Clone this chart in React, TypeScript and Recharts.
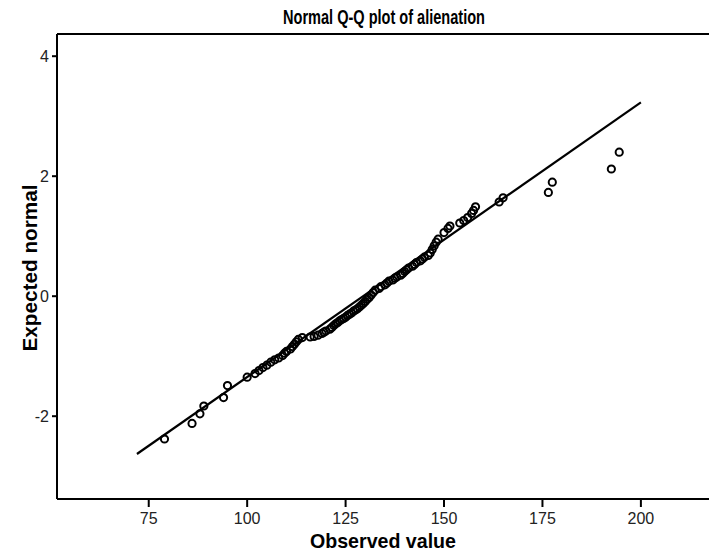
import { ScatterChart, Scatter, XAxis, YAxis, ReferenceLine, Label } from "recharts";

// observed alienation scores and their expected normal quantiles
const observed = [
  79, 86, 88, 89, 94, 95, 100, 102, 103, 104, 105, 106, 107, 108, 109, 109.5, 110, 111, 111.5, 112,
  112.5, 113, 114, 116, 117, 118, 119, 119.5, 120, 121, 121.5, 122, 122.5, 123, 123.5, 124, 124.5, 125,
  125.5, 126, 126.5, 127, 127.5, 128, 128.5, 129, 129.5, 130, 130.5, 131, 131.5, 132, 132.5, 133.5, 134,
  135, 135.5, 136, 137, 137.5, 138, 139, 139.5, 140, 140.5, 141, 142, 142.5, 143, 144, 144.5, 145, 146,
  146.5, 147, 147.5, 148, 148.5, 150, 151, 151.5, 154, 155, 156, 157, 157.5, 158, 164, 165, 176.5, 177.5,
  192.5, 194.5,
];
const expected = [
  -2.38, -2.12, -1.96, -1.83, -1.69, -1.49, -1.35, -1.29, -1.24, -1.19, -1.15, -1.1, -1.06, -1.03, -0.99,
  -0.95, -0.92, -0.88, -0.84, -0.8, -0.76, -0.72, -0.69, -0.68, -0.67, -0.65, -0.62, -0.6, -0.58, -0.55,
  -0.52, -0.49, -0.46, -0.44, -0.41, -0.39, -0.37, -0.35, -0.32, -0.3, -0.28, -0.25, -0.23, -0.21, -0.18,
  -0.15, -0.12, -0.09, -0.05, -0.02, 0.02, 0.06, 0.1, 0.13, 0.16, 0.19, 0.22, 0.25, 0.27, 0.3, 0.32, 0.35,
  0.38, 0.41, 0.44, 0.47, 0.5, 0.53, 0.56, 0.59, 0.62, 0.65, 0.68, 0.72, 0.78, 0.84, 0.9, 0.95, 1.06, 1.13,
  1.17, 1.22, 1.26, 1.31, 1.38, 1.43, 1.49, 1.57, 1.64, 1.73, 1.9, 2.12, 2.4,
];

// reference line end points
const lineX = [72, 200];
const lineY = [-2.63, 3.23];

const xTicks = [75, 100, 125, 150, 175, 200];
const yTicks = [-2, 0, 2, 4];
const xDomain = [51.7, 217.3];
const yDomain = [-3.38, 4.37];

const points = observed.map((v, i) => ({ x: v, y: expected[i] }));
const linePts = lineX.map((v, i) => ({ x: v, y: lineY[i] }));

const FONT = "'Liberation Sans', Arial, sans-serif";

const Ring = (p: any) => (
  <circle cx={p.cx} cy={p.cy} r={3.6} fill="none" stroke="#000" strokeWidth={2} />
);

export default function App() {
  return (
    <div style={{ position: "absolute", left: 0, top: 0, width: 710, height: 552, background: "#fff" }}>
      <svg width={710} height={34} style={{ position: "absolute", left: 0, top: 0 }}>
        <text x={384} y={24} textAnchor="middle" fontFamily={FONT} fontWeight="bold" fontSize={20}
          textLength={202} lengthAdjust="spacingAndGlyphs" fill="#000">
          Normal Q-Q plot of alienation
        </text>
      </svg>
      <ScatterChart width={710} height={552} margin={{ top: 34, right: 1, left: 0, bottom: 0 }}>
        <XAxis type="number" dataKey="x" domain={xDomain} ticks={xTicks} allowDataOverflow
          height={53} tickSize={8} tickMargin={6}
          axisLine={{ stroke: "#000", strokeWidth: 2 }} tickLine={{ stroke: "#000", strokeWidth: 2 }}
          tick={{ fill: "#222", fontSize: 16, fontFamily: FONT }}>
          <Label content={() => (
            <text x={383} y={548} textAnchor="middle" fontFamily={FONT} fontWeight="bold" fontSize={21}
              textLength={146} lengthAdjust="spacingAndGlyphs" fill="#000">Observed value</text>
          )} />
        </XAxis>
        <YAxis type="number" dataKey="y" domain={yDomain} ticks={yTicks} allowDataOverflow
          width={57} tickSize={5} tickMargin={3}
          axisLine={{ stroke: "#000", strokeWidth: 2 }} tickLine={{ stroke: "#000", strokeWidth: 2 }}
          tick={{ fill: "#222", fontSize: 16, fontFamily: FONT }}>
          <Label content={() => (
            <text x={37} y={268} transform="rotate(-90 37 268)" textAnchor="middle" fontFamily={FONT}
              fontWeight="bold" fontSize={21} textLength={167} lengthAdjust="spacingAndGlyphs" fill="#000">
              Expected normal
            </text>
          )} />
        </YAxis>
        <ReferenceLine y={yDomain[1]} stroke="#000" strokeWidth={2} ifOverflow="extendDomain" />
        <Scatter data={linePts} line={{ stroke: "#000", strokeWidth: 2.2 }} shape={() => null}
          isAnimationActive={false} />
        <Scatter data={points} shape={Ring} isAnimationActive={false} />
      </ScatterChart>
    </div>
  );
}
